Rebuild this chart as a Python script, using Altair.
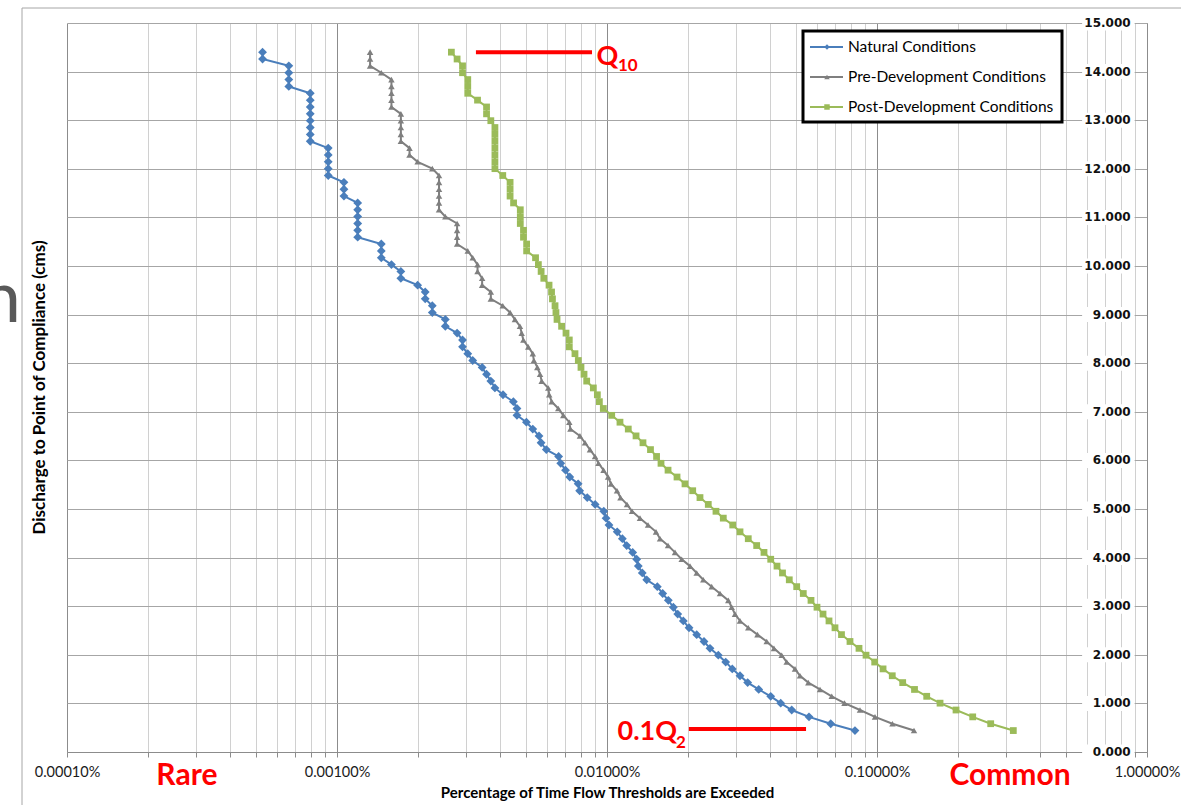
import altair as alt
import pandas as pd

# ---------------- data ----------------
discharge_cms = [
    14.400, 14.259, 14.118, 13.977, 13.836, 13.695, 13.554, 13.413, 13.272, 13.131,
    12.990, 12.849, 12.708, 12.567, 12.426, 12.285, 12.144, 12.003, 11.862, 11.721,
    11.580, 11.439, 11.298, 11.157, 11.016, 10.875, 10.734, 10.593, 10.452, 10.311,
    10.170, 10.029, 9.888, 9.747, 9.606, 9.465, 9.324, 9.183, 9.042, 8.901,
    8.760, 8.619, 8.478, 8.337, 8.196, 8.055, 7.914, 7.773, 7.632, 7.491,
    7.350, 7.209, 7.068, 6.927, 6.786, 6.645, 6.504, 6.363, 6.222, 6.081,
    5.940, 5.799, 5.658, 5.517, 5.376, 5.235, 5.094, 4.953, 4.812, 4.671,
    4.530, 4.389, 4.248, 4.107, 3.966, 3.825, 3.684, 3.543, 3.402, 3.261,
    3.120, 2.979, 2.838, 2.697, 2.556, 2.415, 2.274, 2.133, 1.992, 1.851,
    1.710, 1.569, 1.428, 1.287, 1.146, 1.005, 0.864, 0.723, 0.582, 0.441,
]

# percentage of time exceeded (values in percent)
natural = [
    0.000530, 0.000530, 0.000663, 0.000663, 0.000663, 0.000663, 0.000796, 0.000796, 0.000796, 0.000796,
    0.000796, 0.000796, 0.000796, 0.000796, 0.000928, 0.000928, 0.000928, 0.000928, 0.000928, 0.001061,
    0.001061, 0.001061, 0.001193, 0.001193, 0.001193, 0.001193, 0.001193, 0.001193, 0.001459, 0.001459,
    0.001459, 0.001591, 0.001724, 0.001724, 0.001989, 0.002122, 0.002122, 0.002254, 0.002254, 0.002519,
    0.002519, 0.002785, 0.002917, 0.002917, 0.003050, 0.003182, 0.003448, 0.003580, 0.003713, 0.003845,
    0.00412, 0.00450, 0.00464, 0.00464, 0.00503, 0.00531, 0.00560, 0.00570, 0.00596, 0.00662,
    0.00674, 0.00702, 0.00728, 0.00782, 0.00792, 0.00845, 0.00904, 0.00973, 0.00992, 0.01017,
    0.01091, 0.01140, 0.01183, 0.01245, 0.01288, 0.01306, 0.01351, 0.01403, 0.01536, 0.01608,
    0.01687, 0.01761, 0.01828, 0.01917, 0.02013, 0.02149, 0.02287, 0.02407, 0.02584, 0.02752,
    0.02911, 0.03109, 0.03319, 0.03647, 0.04040, 0.04399, 0.04832, 0.05599, 0.06739, 0.08287,
]

pre_development = [
    0.001326, 0.001326, 0.001326, 0.001459, 0.001591, 0.001591, 0.001591, 0.001591, 0.001591, 0.001724,
    0.001724, 0.001724, 0.001724, 0.001724, 0.001856, 0.001856, 0.001989, 0.002254, 0.002387, 0.002387,
    0.002387, 0.002387, 0.002387, 0.002387, 0.002519, 0.002785, 0.002785, 0.002785, 0.002785, 0.003050,
    0.003182, 0.003315, 0.003315, 0.003448, 0.003448, 0.003713, 0.003713, 0.004111, 0.004376, 0.00456,
    0.00476, 0.00483, 0.00490, 0.00511, 0.00531, 0.00536, 0.00552, 0.00565, 0.00573, 0.00606,
    0.00611, 0.00624, 0.00660, 0.00689, 0.00725, 0.00732, 0.00794, 0.00829, 0.00865, 0.00903,
    0.00930, 0.00971, 0.01009, 0.01035, 0.01089, 0.01122, 0.01186, 0.01238, 0.01325, 0.01419,
    0.01519, 0.01572, 0.01683, 0.01786, 0.01891, 0.02030, 0.02149, 0.02273, 0.02442, 0.02621,
    0.02814, 0.02897, 0.02979, 0.03109, 0.03336, 0.03609, 0.03904, 0.04154, 0.04436, 0.04630,
    0.04970, 0.05186, 0.05567, 0.06151, 0.06797, 0.07580, 0.08650, 0.09830, 0.1141, 0.1371,
]

post_development = [
    0.002652, 0.002785, 0.002917, 0.002917, 0.003050, 0.003050, 0.003050, 0.003315, 0.003580, 0.003580,
    0.003713, 0.003845, 0.003845, 0.003845, 0.003845, 0.003845, 0.003845, 0.003845, 0.004111, 0.004376,
    0.004376, 0.004376, 0.004508, 0.004774, 0.004774, 0.004774, 0.004906, 0.004906, 0.005039, 0.005039,
    0.005437, 0.005569, 0.005702, 0.005834, 0.006100, 0.006232, 0.00628, 0.00642, 0.00647, 0.00653,
    0.00679, 0.00705, 0.00725, 0.00725, 0.00761, 0.00783, 0.00801, 0.00822, 0.00841, 0.00890,
    0.00921, 0.00937, 0.00969, 0.01041, 0.01117, 0.01199, 0.01281, 0.01359, 0.01449, 0.01526,
    0.01585, 0.01683, 0.01817, 0.01945, 0.02077, 0.02210, 0.02372, 0.02533, 0.02696, 0.02922,
    0.03109, 0.03336, 0.03584, 0.03815, 0.04040, 0.04262, 0.04467, 0.04733, 0.05042, 0.05333,
    0.05696, 0.05995, 0.06310, 0.06641, 0.06989, 0.07387, 0.07943, 0.08577, 0.09106, 0.09806,
    0.1053, 0.1139, 0.1245, 0.1377, 0.1528, 0.1712, 0.1962, 0.2262, 0.2637, 0.3198,
]

series_names = ["Natural Conditions", "Pre-Development Conditions", "Post-Development Conditions"]
series_colors = ["#4A7EBB", "#7F7F7F", "#9BBB59"]
series_shapes = ["diamond", "triangle-up", "square"]
marker_sizes = [78, 42, 46]

x_tick_values = [
    0.0001, 0.0002, 0.0003, 0.0004, 0.0005, 0.0006, 0.0007, 0.0008, 0.0009,
    0.001, 0.002, 0.003, 0.004, 0.005, 0.006, 0.007, 0.008, 0.009,
    0.01, 0.02, 0.03, 0.04, 0.05, 0.06, 0.07, 0.08, 0.09,
    0.1, 0.2, 0.3, 0.4, 0.5, 0.6, 0.7, 0.8, 0.9,
    1.0,
]
y_tick_values = list(range(0, 16))

q10 = 14.40
tenth_q2 = 0.441

# ---------------- chart ----------------
W, H = 1080, 729
xscale = alt.Scale(type="log", domain=[0.0001, 1], nice=False)
yscale = alt.Scale(domain=[0, 15], nice=False, zero=False)

major_test = "indexof([0.0001, 0.001, 0.01, 0.1, 1], datum.value) >= 0"

x_axis = alt.Axis(
    values=x_tick_values,
    grid=True,
    gridColor={"condition": {"test": major_test, "value": "#8c8c8c"}, "value": "#d0d0d0"},
    gridWidth=1,
    labelExpr=f"({major_test}) ? format(datum.value, '.5f') + '%' : ''",
    labelOverlap=False,
    labelFlush=False,
    labelFont="Lato",
    labelFontSize=14.5,
    labelColor="#1a1a1a",
    labelPadding=8,
    tickSize=5,
    tickColor="#8c8c8c",
    domainColor="#8c8c8c",
    title="Percentage of Time Flow Thresholds are Exceeded",
    titleFont="Lato",
    titleFontSize=15,
    titleFontWeight="bold",
    titleColor="#000000",
    titlePadding=7,
)
y_axis = alt.Axis(
    orient="right",
    values=y_tick_values,
    grid=True,
    gridColor="#a6a6a6",
    labels=False,
    ticks=False,
    domain=True,
    domainColor="#8c8c8c",
    title=None,
)


def X(field):
    return alt.X(field, scale=xscale, axis=x_axis)


def Y(field):
    return alt.Y(field, scale=yscale, axis=y_axis)


rows = []
for name, xs in zip(series_names, [natural, pre_development, post_development]):
    for i, (q, p) in enumerate(zip(discharge_cms, xs)):
        rows.append({"series": name, "pct": p, "q": q, "idx": i})
df = pd.DataFrame(rows)

one = pd.DataFrame({"a": [0]})
layers = []

# outer chart frame and stray glyph at left edge (pixel layout, no data)
layers.append(
    alt.Chart(one).mark_rect(fillOpacity=0, stroke="#a6a6a6", strokeWidth=1).encode(
        x=alt.value(-45), x2=alt.value(1130), y=alt.value(-15), y2=alt.value(800)
    )
)
layers.append(
    alt.Chart(one).mark_text(
        text="n", font="Lato", fontSize=72, color="#595959", align="right", baseline="alphabetic"
    ).encode(x=alt.value(-46), y=alt.value(299))
)

# y tick labels with white background (drawn inside plot, left of right axis)
ylab = pd.DataFrame({"v": y_tick_values, "label": [f"{v:.3f}" for v in y_tick_values]})
layers.append(
    alt.Chart(ylab).mark_rule(color="white", strokeWidth=15).transform_calculate(
        xa="0.575", xb="0.9"
    ).encode(x=X("xa:Q"), x2="xb:Q", y=Y("v:Q"))
)
layers.append(
    alt.Chart(ylab).mark_text(
        align="right", baseline="middle", font="DejaVu Sans", fontWeight="bold",
        fontSize=12, color="#111111"
    ).transform_calculate(xt="0.87").encode(x=X("xt:Q"), y=Y("v:Q"), text="label:N")
)

for name, col, shp, sz in zip(series_names, series_colors, series_shapes, marker_sizes):
    sub = df[df.series == name]
    layers.append(
        alt.Chart(sub).mark_line(color=col, strokeWidth=2).encode(
            x=X("pct:Q"), y=Y("q:Q"), order="idx:Q"
        )
    )
    layers.append(
        alt.Chart(sub).mark_point(shape=shp, size=sz, filled=True, opacity=1, color=col).encode(
            x=X("pct:Q"), y=Y("q:Q")
        )
    )

# red annotation lines at Q10 and 0.1Q2
ann_lines = pd.DataFrame({
    "x1": [0.00327, 0.0201],
    "x2": [0.00880, 0.0546],
    "y": [q10, tenth_q2 + 0.03],
})
layers.append(
    alt.Chart(ann_lines).mark_rule(color="#FF0000", strokeWidth=4).encode(
        x=X("x1:Q"), x2="x2:Q", y=Y("y:Q")
    )
)

# red annotation texts
big_txt = pd.DataFrame({"t": ["Q", "0.1Q"], "x": [0.00915, 0.01094], "y": [14.14, 0.25]})
small_txt = pd.DataFrame({"t": ["10", "2"], "x": [0.01098, 0.0180], "y": [14.02, 0.08]})
for d, fs in [(big_txt, 27), (small_txt, 17)]:
    layers.append(
        alt.Chart(d).mark_text(
            font="Lato", fontWeight="bold", fontSize=fs, color="#FF0000",
            align="left", baseline="alphabetic"
        ).encode(x=X("x:Q"), y=Y("y:Q"), text="t:N")
    )
rare_common = pd.DataFrame({"t": ["Rare", "Common"], "x": [0.000278, 0.311], "y": [-0.49, -0.49]})
layers.append(
    alt.Chart(rare_common).mark_text(
        font="Lato", fontWeight="bold", fontSize=30, color="#FF0000",
        align="center", baseline="middle"
    ).encode(x=X("x:Q"), y=Y("y:Q"), text="t:N")
)

# y axis title on the left
layers.append(
    alt.Chart(one).mark_text(
        text="Discharge to Point of Compliance (cms)",
        font="Lato", fontWeight="bold", fontSize=17, color="#000000", angle=270,
        align="center", baseline="middle"
    ).encode(x=alt.value(-27), y=alt.value(H / 2))
)

# legend (boxed, top right)
layers.append(
    alt.Chart(one).mark_rect(fill="white", stroke="black", strokeWidth=3).encode(
        x=alt.value(736), x2=alt.value(995), y=alt.value(8), y2=alt.value(99)
    )
)
for name, col, shp, ly in zip(series_names, series_colors, series_shapes, [24, 54, 84]):
    layers.append(
        alt.Chart(one).mark_rule(color=col, strokeWidth=2).encode(
            x=alt.value(743), x2=alt.value(776), y=alt.value(ly)
        )
    )
    layers.append(
        alt.Chart(one).mark_point(shape=shp, size=30, filled=True, opacity=1, color=col).encode(
            x=alt.value(760), y=alt.value(ly)
        )
    )
    layers.append(
        alt.Chart(one).mark_text(
            text=name, font="Lato", fontSize=15.5, color="#000000", align="left", baseline="middle"
        ).encode(x=alt.value(781), y=alt.value(ly))
    )

chart = alt.layer(*layers).properties(
    width=W,
    height=H,
    autosize=alt.AutoSizeParams(type="none"),
    padding={"left": 67, "top": 23, "right": 34, "bottom": 53},
    background="white",
).configure_view(stroke=None)

chart.save("out.html", embed_options={"renderer": "svg", "actions": False})
